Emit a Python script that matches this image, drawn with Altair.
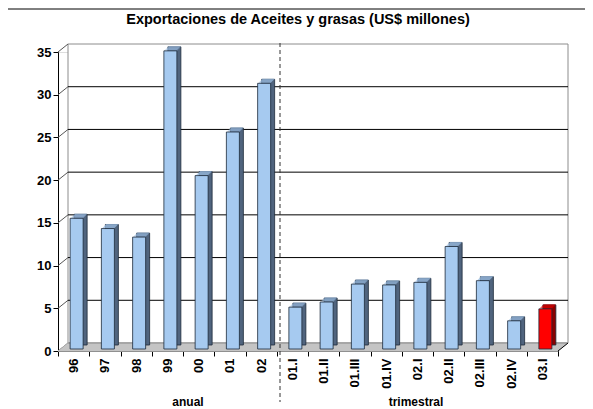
import altair as alt
import pandas as pd

# ---- data ----
categories = ["96", "97", "98", "99", "00", "01", "02",
              "01.I", "01.II", "01.III", "01.IV", "02.I", "02.II", "02.III", "02.IV", "03.I"]
values = [15.3, 14.1, 13.1, 34.9, 20.3, 25.4, 31.1,
          4.9, 5.5, 7.6, 7.5, 7.8, 12.0, 8.0, 3.3, 4.7]
y_ticks = [0, 5, 10, 15, 20, 25, 30, 35]
title_text = "Exportaciones de Aceites y grasas (US$ millones)"
group_labels = ["anual", "trimestral"]
highlight = "03.I"

df = pd.DataFrame({"cat": categories, "val": values})
ticks_df = pd.DataFrame({"v": y_ticks})
one = pd.DataFrame({"a": [0]})

FONT = "Liberation Sans"
W, H = 500, 299
DX, DY = 10, -8  # 3D depth of the wall
YS = alt.Scale(domain=[0, 35], nice=False)
XS = alt.Scale(domain=categories, paddingInner=0, paddingOuter=0)

LIGHT = "#a6caf0"
SIDE = "#50647e"
EDGE = "#1c2a3a"

X_AXIS = alt.Axis(title=None, labelAngle=270, labelFont=FONT, labelFontSize=13,
                  labelFontWeight="bold", labelColor="black", labelPadding=2,
                  tickBand="extent", tickSize=5, tickColor="black",
                  domainColor="black", labelOverlap=False)
Y_AXIS = alt.Axis(title=None, values=y_ticks, labelFont=FONT, labelFontSize=13,
                  labelFontWeight="bold", labelColor="black", labelPadding=2,
                  tickSize=5, tickColor="black", domainColor="black", grid=False)


def ydat(v):
    return alt.Y(datum=v, scale=YS, axis=Y_AXIS)


# outer border of the chart (four rules)
b_style = dict(color="black", strokeWidth=1)
border = [
    alt.Chart(one).mark_rule(**b_style).encode(x=alt.value(-53), x2=alt.value(530), y=alt.value(-43)),
    alt.Chart(one).mark_rule(**b_style).encode(x=alt.value(-53), y=alt.value(-43), y2=alt.value(420)),
    alt.Chart(one).mark_rule(**b_style).encode(x=alt.value(530), y=alt.value(-43), y2=alt.value(420)),
]

# back wall
wall = alt.Chart(one).mark_rect(fill="white", stroke="#8c8c8c", strokeWidth=1,
                                 yOffset=DY, y2Offset=DY).encode(
    x=alt.value(DX), x2=alt.value(W + DX),
    y=ydat(35), y2=alt.Y2(datum=0))

# gridlines on the wall
grid = alt.Chart(ticks_df).transform_filter("datum.v > 0 && datum.v < 35").mark_rule(
    color="black", strokeWidth=1, yOffset=DY).encode(
    x=alt.value(DX), x2=alt.value(W + DX),
    y=alt.Y("v:Q", scale=YS, axis=Y_AXIS))

# connectors from axis ticks to the wall
conn = alt.Chart(ticks_df).mark_rule(color="#555555", strokeWidth=1, y2Offset=DY).encode(
    x=alt.value(0), x2=alt.value(DX),
    y=alt.Y("v:Q", scale=YS, axis=Y_AXIS), y2=alt.Y2("v:Q"))

# floor (parallelogram built from thin rules)
floor_layers = []
for i in range(0, 9):
    floor_layers.append(
        alt.Chart(one).mark_rule(color="#c0c0c0", strokeWidth=1.3,
                                 xOffset=i * DX / 8.0, x2Offset=i * DX / 8.0,
                                 yOffset=-i, y2Offset=-i).encode(
            x=alt.value(0), x2=alt.value(W),
            y=ydat(0), y2=alt.Y2(datum=0)))
floor_right = alt.Chart(one).mark_rule(color="black", strokeWidth=1, y2Offset=DY).encode(
    x=alt.value(W), x2=alt.value(W + DX),
    y=ydat(0), y2=alt.Y2(datum=0))
floor_back = alt.Chart(one).mark_rule(color="#8c8c8c", strokeWidth=1, yOffset=DY, y2Offset=DY).encode(
    x=alt.value(DX), x2=alt.value(W + DX),
    y=ydat(0), y2=alt.Y2(datum=0))

# dashed separator
sep = alt.Chart(one).mark_rule(color="#333333", strokeWidth=1, strokeDash=[4, 3]).encode(
    x=alt.value(222), y=alt.value(-9), y2=alt.value(350))

is_hi = alt.datum.cat == highlight

# bars: back (side) face, top face, front face
bar_back = alt.Chart(df).mark_bar(width=13, xOffset=7, yOffset=-6, y2Offset=-6,
                                  stroke=EDGE, strokeWidth=0.8).encode(
    x=alt.X("cat:N", scale=XS, sort=categories, axis=X_AXIS),
    y=alt.Y("val:Q", scale=YS, axis=Y_AXIS),
    color=alt.condition(is_hi, alt.value("#8a0000"), alt.value(SIDE)))

top_layers = []
for k in range(1, 5):
    top_layers.append(
        alt.Chart(df).mark_tick(size=12, thickness=1.2, xOffset=3 + k, yOffset=-2 - k,
                                orient="horizontal").encode(
            x=alt.X("cat:N", scale=XS, sort=categories, axis=X_AXIS),
            y=alt.Y("val:Q", scale=YS, axis=Y_AXIS),
            color=alt.condition(is_hi, alt.value("#e00000"), alt.value("#9cbfe4"))))

bar_front = alt.Chart(df).mark_bar(width=13, xOffset=3, yOffset=-2, y2Offset=-2,
                                   stroke=EDGE, strokeWidth=0.8).encode(
    x=alt.X("cat:N", scale=XS, sort=categories, axis=X_AXIS),
    y=alt.Y("val:Q", scale=YS, axis=Y_AXIS),
    color=alt.condition(is_hi, alt.value("#ff0000"), alt.value(LIGHT)))

title = alt.Chart(one).mark_text(font=FONT, fontSize=14.5, fontWeight="bold", color="black",
                                 align="center", baseline="middle").encode(
    x=alt.value(240), y=alt.value(-32), text=alt.value(title_text))

g1 = alt.Chart(one).mark_text(font=FONT, fontSize=12, fontWeight="bold", color="black",
                              align="center", baseline="middle").encode(
    x=alt.value(130), y=alt.value(350), text=alt.value(group_labels[0]))
g2 = alt.Chart(one).mark_text(font=FONT, fontSize=12, fontWeight="bold", color="black",
                              align="center", baseline="middle").encode(
    x=alt.value(358), y=alt.value(350), text=alt.value(group_labels[1]))

chart = alt.layer(
    *border, wall, grid, conn, *floor_layers, floor_back, floor_right,
    bar_back, *top_layers, bar_front, sep, title, g1, g2
).properties(
    width=W, height=H,
    autosize=alt.AutoSizeParams(type="none"),
    padding={"left": 50, "top": 44, "right": 27, "bottom": 58},
).configure_view(stroke=None).configure(background="white")

chart.save("out.html", embed_options={"renderer": "svg", "actions": False})
